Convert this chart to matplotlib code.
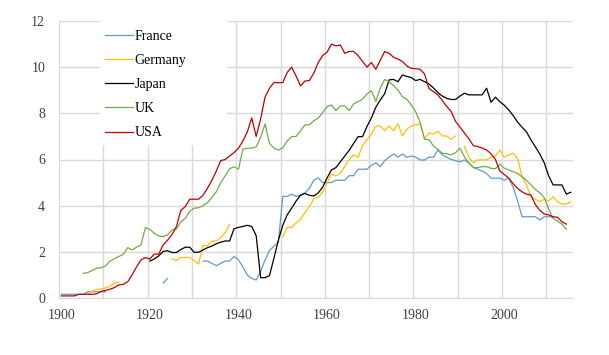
import numpy as np
import matplotlib
matplotlib.use("Agg")
import matplotlib.pyplot as plt
from matplotlib.patches import Rectangle

nan = np.nan
years = list(range(1900, 2016))

france = [
    0.16, 0.16, 0.16, 0.16, 0.16, 0.16, 0.27, 0.27, 0.27, 0.27,
    0.27, nan, nan, nan, nan, nan, nan, nan, nan, nan,
    nan, nan, nan, 0.65, 0.85, nan, nan, nan, nan, nan,
    nan, nan, 1.6, 1.6, 1.5, 1.4, 1.5, 1.6, 1.6, 1.8,
    1.65, 1.35, 1.0, 0.85, 0.78, 1.15, 1.65, 2.05, 2.25, 2.4,
    4.4, 4.4, 4.5, 4.4, 4.45, 4.55, 4.75, 5.1, 5.2, 5.0,
    5.0, 5.0, 5.1, 5.1, 5.1, 5.3, 5.3, 5.58, 5.58, 5.58,
    5.75, 5.86, 5.69, 5.95, 6.1, 6.24, 6.1, 6.24, 6.1, 6.15,
    6.1, 5.98, 5.98, 6.1, 6.1, 6.41, 6.2, 6.1, 6.0, 5.95,
    5.9, 5.98, 5.85, 5.66, 5.58, 5.5, 5.4, 5.19, 5.19, 5.19,
    5.11, 5.19, 4.8, 4.2, 3.52, 3.52, 3.52, 3.52, 3.38, 3.52,
    3.52, 3.5, nan, nan, nan, nan,
]

germany = [
    nan, nan, nan, nan, nan, nan, 0.17, 0.3, 0.38, 0.39,
    0.43, 0.52, 0.65, 0.68, nan, nan, nan, nan, nan, nan,
    nan, nan, nan, nan, nan, 1.7, 1.62, 1.76, 1.76, 1.76,
    1.62, 1.47, 2.27, 2.27, 2.47, 2.47, 2.61, 2.83, 3.19, nan,
    nan, nan, nan, nan, nan, nan, nan, nan, nan, nan,
    2.66, 3.06, 3.06, 3.25, 3.4, 3.7, 3.95, 4.3, 4.36, 4.6,
    4.98, 5.36, 5.29, 5.4, 5.7, 6.0, 6.2, 6.1, 6.6, 6.85,
    7.1, 7.45, 7.45, 7.25, 7.45, 7.25, 7.55, 7.02, 7.31, 7.45,
    7.5, 7.55, 6.88, 7.16, 7.1, 7.21, 7.02, 7.02, 6.88, 7.02,
    nan, 6.56, 6.1, 5.86, 5.98, 5.98, 5.98, 6.1, 6.15, 6.41,
    6.1, 6.2, 6.27, 6.05, 5.25, 4.9, 4.4, 4.28, 4.17, 4.28,
    4.2, 4.39, 4.17, 4.07, 4.07, 4.17,
]

japan = [
    nan, nan, nan, nan, nan, nan, nan, nan, nan, nan,
    nan, nan, nan, nan, nan, nan, nan, nan, nan, nan,
    1.6, 1.69, 1.82, 2.02, 2.05, 1.97, 1.97, 2.1, 2.2, 2.2,
    1.98, 1.98, 2.08, 2.18, 2.25, 2.35, 2.42, 2.47, 2.47, 3.0,
    3.06, 3.1, 3.15, 3.1, 2.7, 0.88, 0.88, 0.97, 1.72, 2.5,
    3.15, 3.6, 3.89, 4.2, 4.45, 4.53, 4.45, 4.42, 4.55, 4.8,
    5.2, 5.55, 5.65, 5.9, 6.15, 6.4, 6.7, 6.99, 6.99, 7.43,
    7.8, 8.26, 8.58, 8.85, 9.45, 9.47, 9.37, 9.66, 9.6, 9.55,
    9.42, 9.47, 9.37, 9.27, 9.1, 8.9, 8.75, 8.65, 8.6, 8.6,
    8.75, 8.87, 8.8, 8.8, 8.8, 8.8, 9.09, 8.48, 8.7, 8.5,
    8.35, 8.15, 7.9, 7.62, 7.4, 7.2, 6.85, 6.55, 6.24, 5.86,
    5.3, 4.9, 4.9, 4.9, 4.5, 4.58,
]

uk = [
    nan, nan, nan, nan, nan, 1.07, 1.1, 1.2, 1.29, 1.31,
    1.39, 1.6, 1.7, 1.8, 1.89, 2.18, 2.08, 2.2, 2.3, 3.05,
    2.98, 2.8, 2.69, 2.66, 2.73, 2.95, 2.98, 3.3, 3.45, 3.75,
    3.89, 3.91, 4.0, 4.13, 4.35, 4.6, 5.0, 5.3, 5.6, 5.69,
    5.58, 6.45, 6.49, 6.49, 6.55, 6.96, 7.54, 6.7, 6.49, 6.41,
    6.5, 6.81, 6.99, 7.0, 7.24, 7.5, 7.5, 7.68, 7.79, 8.03,
    8.29, 8.36, 8.12, 8.32, 8.32, 8.12, 8.41, 8.51, 8.61, 8.84,
    8.98, 8.51, 9.09, 9.47, 9.37, 9.2, 9.01, 8.72, 8.61, 8.36,
    8.07, 7.6, 6.88, 6.85, 6.59, 6.44, 6.27, 6.25, 6.2, 6.3,
    6.49, 6.12, 5.85, 5.65, 5.65, 5.69, 5.69, 5.62, 5.6, 5.8,
    5.62, 5.55, 5.47, 5.4, 5.25, 5.1, 4.9, 4.7, 4.56, 4.35,
    3.85, 3.45, 3.33, 3.2, 2.98, nan,
]

usa = [
    0.09, 0.09, 0.09, 0.09, 0.16, 0.16, 0.16, 0.16, 0.18, 0.29,
    0.33, 0.38, 0.45, 0.57, 0.59, 0.7, 1.0, 1.35, 1.65, 1.75,
    1.69, 1.9, 1.9, 2.3, 2.5, 2.75, 3.1, 3.8, 3.96, 4.28,
    4.28, 4.28, 4.45, 4.75, 5.1, 5.5, 5.95, 6.0, 6.15, 6.3,
    6.49, 6.8, 7.2, 7.8, 7.0, 7.75, 8.7, 9.09, 9.33, 9.33,
    9.33, 9.77, 10.0, 9.62, 9.19, 9.4, 9.42, 9.74, 10.2, 10.5,
    10.65, 11.0, 10.92, 10.96, 10.6, 10.68, 10.68, 10.5, 10.25, 10.0,
    10.2, 9.91, 10.3, 10.68, 10.6, 10.43, 10.35, 10.25, 10.05, 9.95,
    9.93, 9.91, 9.7, 9.07, 8.94, 8.8, 8.55, 8.3, 8.08, 7.65,
    7.4, 7.15, 6.9, 6.6, 6.56, 6.5, 6.41, 6.25, 6.0, 5.5,
    5.35, 5.19, 4.95, 4.75, 4.6, 4.5, 4.46, 4.05, 3.8, 3.64,
    3.6, 3.52, 3.5, 3.3, 3.2, nan,
]

series_names = ["France", "Germany", "Japan", "UK", "USA"]
series_values = [france, germany, japan, uk, usa]
series_colors = ["#5B9BD5", "#FFC000", "#000000", "#70AD47", "#C00000"]

x_labels = [1900, 1920, 1940, 1960, 1980, 2000]
y_ticks = [0, 2, 4, 6, 8, 10, 12]

plt.rcParams["font.family"] = ["Liberation Serif", "DejaVu Serif"]

fig = plt.figure(figsize=(6.09, 3.55), dpi=100)
ax = fig.add_axes([59 / 609, 1 - 298 / 355, 514 / 609, 277 / 355])

grid_c = "#D9D9D9"
ax.set_xlim(1899.5, 2015.5)
ax.set_ylim(0, 12)
ax.set_yticks(y_ticks)
ax.set_xticks(x_labels)
ax.set_xticks(np.arange(1909.5, 2010, 10), minor=True)
ax.grid(axis="y", color=grid_c, lw=1.0, zorder=0)
ax.grid(axis="x", which="minor", color=grid_c, lw=1.0, zorder=0)
ax.grid(axis="x", which="major", visible=False)
for s in ["top", "right"]:
    ax.spines[s].set_visible(False)
ax.spines["left"].set_color(grid_c)
ax.spines["bottom"].set_color(grid_c)
ax.tick_params(axis="both", which="both", length=0, labelsize=10, colors="#404040")
ax.tick_params(axis="y", pad=10)
ax.tick_params(axis="x", pad=8)
ax.set_axisbelow(True)

for name, vals, col in zip(series_names, series_values, series_colors):
    ax.plot(years, vals, color=col, lw=0.9, label=name, zorder=3)

# white legend area covering gridlines
ax.add_patch(Rectangle(((100 - 59) / 514, (298 - 145) / 277), (227 - 100) / 514,
                       1 - (298 - 145) / 277, transform=ax.transAxes,
                       facecolor="white", edgecolor="none", zorder=2))
leg = ax.legend(loc="upper left", bbox_to_anchor=((105 - 59) / 514, (298 - 30) / 277),
                frameon=False, borderpad=0, handlelength=2.0, handletextpad=0.15,
                labelspacing=0.8, fontsize=10, borderaxespad=0)
leg.set_zorder(4)

fig.savefig("out.png", dpi=100)
